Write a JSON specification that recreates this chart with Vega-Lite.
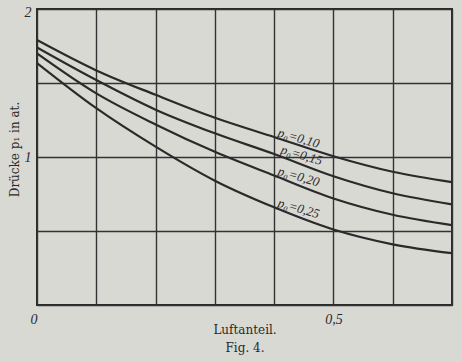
{
  "$schema": "https://vega.github.io/schema/vega-lite/v6.json",
  "width": 415,
  "height": 296,
  "autosize": "none",
  "padding": {"left": 37, "top": 9, "right": 10, "bottom": 57},
  "background": "#d9d9d4",
  "config": {
    "view": {"stroke": "#2a2a2a", "strokeWidth": 2},
    "axis": {"domain": false, "ticks": false, "gridColor": "#333333", "gridWidth": 1.4, "gridOpacity": 1, "labelFont": "Liberation Serif", "labelFontStyle": "italic", "labelFontSize": 14, "labelColor": "#2a2a2a", "titleFont": "DejaVu Serif", "titleFontWeight": "normal", "titleFontSize": 12, "titleColor": "#2a2a2a"}
  },
  "datasets": {
    "curves": [
      {"x": 0, "p": 1.79, "s": "0,10"}, {"x": 0.1, "p": 1.585, "s": "0,10"}, {"x": 0.2, "p": 1.42, "s": "0,10"}, {"x": 0.3, "p": 1.265, "s": "0,10"}, {"x": 0.4, "p": 1.135, "s": "0,10"}, {"x": 0.5, "p": 1.005, "s": "0,10"}, {"x": 0.6, "p": 0.9, "s": "0,10"}, {"x": 0.7, "p": 0.83, "s": "0,10"},
      {"x": 0, "p": 1.74, "s": "0,15"}, {"x": 0.1, "p": 1.52, "s": "0,15"}, {"x": 0.2, "p": 1.32, "s": "0,15"}, {"x": 0.3, "p": 1.16, "s": "0,15"}, {"x": 0.4, "p": 1.02, "s": "0,15"}, {"x": 0.5, "p": 0.87, "s": "0,15"}, {"x": 0.6, "p": 0.755, "s": "0,15"}, {"x": 0.7, "p": 0.68, "s": "0,15"},
      {"x": 0, "p": 1.70, "s": "0,20"}, {"x": 0.1, "p": 1.43, "s": "0,20"}, {"x": 0.2, "p": 1.22, "s": "0,20"}, {"x": 0.3, "p": 1.035, "s": "0,20"}, {"x": 0.4, "p": 0.875, "s": "0,20"}, {"x": 0.5, "p": 0.72, "s": "0,20"}, {"x": 0.6, "p": 0.61, "s": "0,20"}, {"x": 0.7, "p": 0.54, "s": "0,20"},
      {"x": 0, "p": 1.635, "s": "0,25"}, {"x": 0.1, "p": 1.33, "s": "0,25"}, {"x": 0.2, "p": 1.07, "s": "0,25"}, {"x": 0.3, "p": 0.84, "s": "0,25"}, {"x": 0.4, "p": 0.66, "s": "0,25"}, {"x": 0.5, "p": 0.51, "s": "0,25"}, {"x": 0.6, "p": 0.41, "s": "0,25"}, {"x": 0.7, "p": 0.35, "s": "0,25"}
    ],
    "labels": [
      {"x": 0.405, "p": 1.14, "t": "p₀=0,10"},
      {"x": 0.41, "p": 1.025, "t": "p₀=0,15"},
      {"x": 0.405, "p": 0.88, "t": "p₀=0,20"},
      {"x": 0.405, "p": 0.665, "t": "p₀=0,25"}
    ]
  },
  "layer": [
    {
      "data": {"name": "curves"},
      "mark": {"type": "line", "interpolate": "monotone", "color": "#2a2a2a", "strokeWidth": 2.2, "clip": true},
      "encoding": {
        "x": {"field": "x", "type": "quantitative", "scale": {"domain": [0, 0.7], "nice": false},
          "axis": {"values": [0, 0.1, 0.2, 0.3, 0.4, 0.5, 0.6, 0.7], "labelExpr": "datum.value == 0 ? '0' : (datum.value == 0.5 ? '0,5' : '')", "labelPadding": 7, "labelFlush": false,
            "labelAlign": {"condition": {"test": "datum.value == 0", "value": "right"}, "value": "center"},
            "title": ["Luftanteil.", "Fig. 4."], "titleY": 19, "titleBaseline": "top", "titleLineHeight": 18}},
        "y": {"field": "p", "type": "quantitative", "scale": {"domain": [0, 2], "nice": false},
          "axis": {"values": [0, 0.5, 1, 1.5, 2], "labelExpr": "datum.value == 1 ? '1' : (datum.value == 2 ? '2' : '')", "labelPadding": 6, "labelFlush": false,
            "labelOffset": {"condition": {"test": "datum.value == 2", "value": 3}, "value": 0},
            "title": "Drücke p₁ in at.", "titleX": -23, "titleY": 140, "titleAngle": -90, "titleAlign": "center", "titleBaseline": "middle"}},
        "detail": {"field": "s"}
      }
    },
    {
      "data": {"name": "labels"},
      "mark": {"type": "text", "align": "left", "baseline": "alphabetic", "angle": 16, "font": "Liberation Serif", "fontStyle": "italic", "fontSize": 13, "color": "#2a2a2a"},
      "encoding": {
        "x": {"field": "x", "type": "quantitative"},
        "y": {"field": "p", "type": "quantitative"},
        "text": {"field": "t"}
      }
    }
  ]
}
